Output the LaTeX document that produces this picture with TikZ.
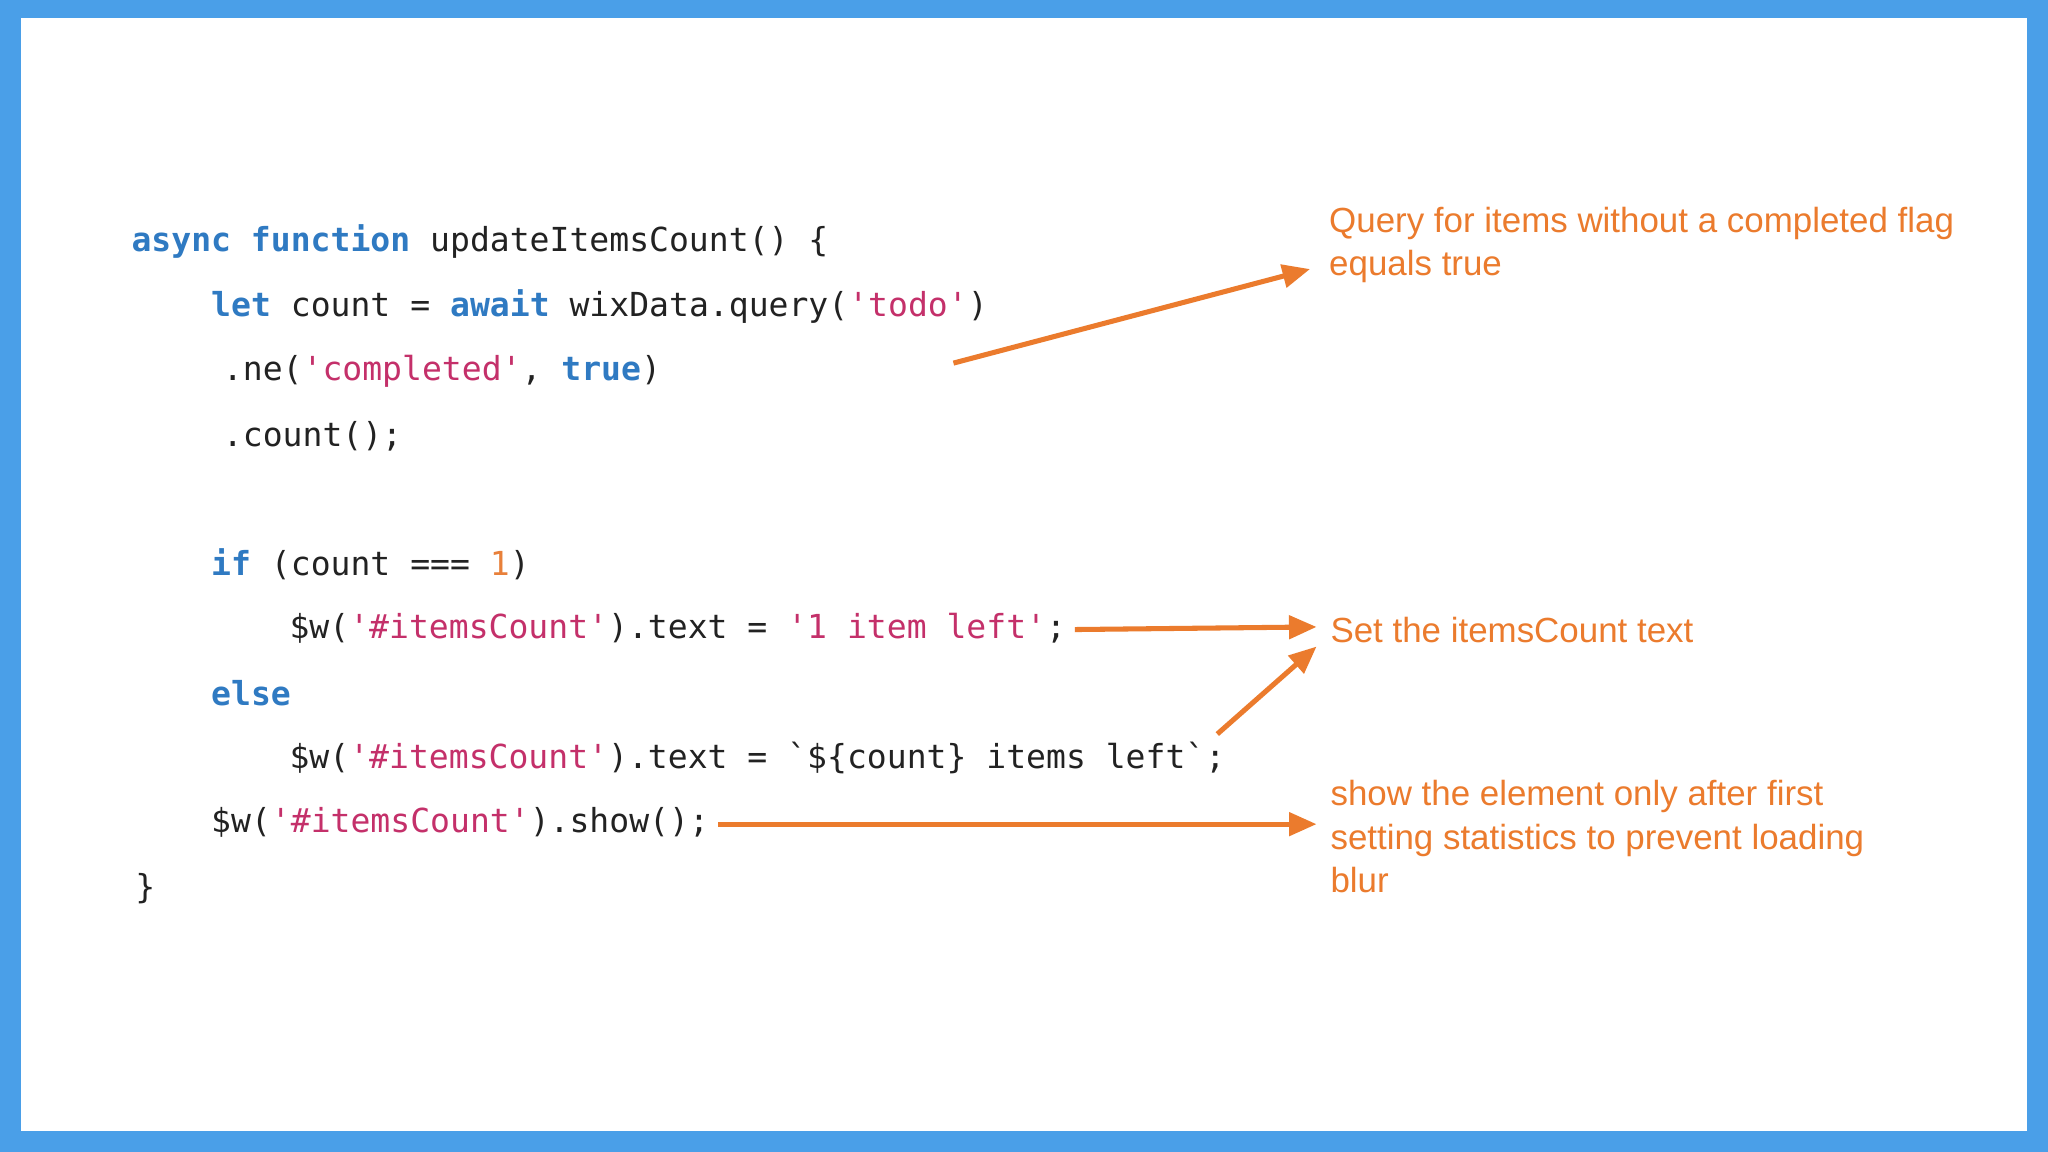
\documentclass[tikz,border=0pt]{standalone}
\usepackage{fontspec}
\setmainfont{Liberation Sans}
\setmonofont{DejaVu Sans Mono}
\usetikzlibrary{arrows.meta}
\definecolor{frame}{HTML}{4A9FE8}
\definecolor{kw}{HTML}{2F7AC2}
\definecolor{str}{HTML}{C4306A}
\definecolor{num}{HTML}{E8803A}
\definecolor{ann}{HTML}{EB7B2D}
\definecolor{code}{HTML}{222222}
\newcommand{\kwd}[1]{\textcolor{kw}{\bfseries #1}}
\newcommand{\strg}[1]{\textcolor{str}{#1}}
\newcommand{\q}{\textquotesingle}
\begin{document}
\begin{tikzpicture}[x=0.01cm,y=-0.01cm,
  codeline/.style={anchor=west,inner sep=0,font=\fontsize{7.2}{9}\ttfamily,text=code},
  note/.style={anchor=north west,inner sep=0,align=left,text=ann,font=\fontsize{7.6}{9.4}\selectfont},
  pointer/.style={draw=ann,line width=1.1pt,-{Triangle[length=6pt,width=5pt]}}]
\fill[frame] (0,0) rectangle (1568,882);
\fill[white] (16,14) rectangle (1552,866);
\useasboundingbox (0,0) rectangle (1568,882);
\node[codeline] (l1) at (100,185) {\kwd{async function} updateItemsCount() \{};
\node[codeline] (l2) at (161,235) {\kwd{let} count = \kwd{await} wixData.query(\strg{\q todo\q})};
\node[codeline] (l3) at (170,284) {.ne(\strg{\q completed\q}, \kwd{true})};
\node[codeline] (l4) at (170,334) {.count();};
\node[codeline] (l5) at (161,432) {\kwd{if} (count === \textcolor{num}{1})};
\node[codeline] (l6) at (221,481) {\$w(\strg{\q\#itemsCount\q}).text = \strg{\q 1 item left\q};};
\node[codeline] (l7) at (161,531) {\kwd{else}};
\node[codeline] (l8) at (221,580) {\$w(\strg{\q\#itemsCount\q}).text = \textasciigrave\$\{count\} items left\textasciigrave;};
\node[codeline] (l9) at (161,630) {\$w(\strg{\q\#itemsCount\q}).show();};
\node[codeline] (l10) at (103,680) {\}};
\node[note] (n1) at (1017,158) {Query for items without a completed flag\\equals true};
\node[note,anchor=west] (n2) at (1018,482) {Set the itemsCount text};
\node[note] (n3) at (1018,597) {show the element only after first\\setting statistics to prevent loading\\blur};
\coordinate (a1s) at (730,278); \coordinate (a1e) at (1003,206);
\coordinate (a2s) at (823,482); \coordinate (a2e) at (1008,480);
\coordinate (a3s) at (932,562); \coordinate (a3e) at (1008,495);
\coordinate (a4s) at (550,631); \coordinate (a4e) at (1008,631);
\draw[pointer] (a1s) -- (a1e);
\draw[pointer] (a2s) -- (a2e);
\draw[pointer] (a3s) -- (a3e);
\draw[pointer] (a4s) -- (a4e);
\end{tikzpicture}
\end{document}
